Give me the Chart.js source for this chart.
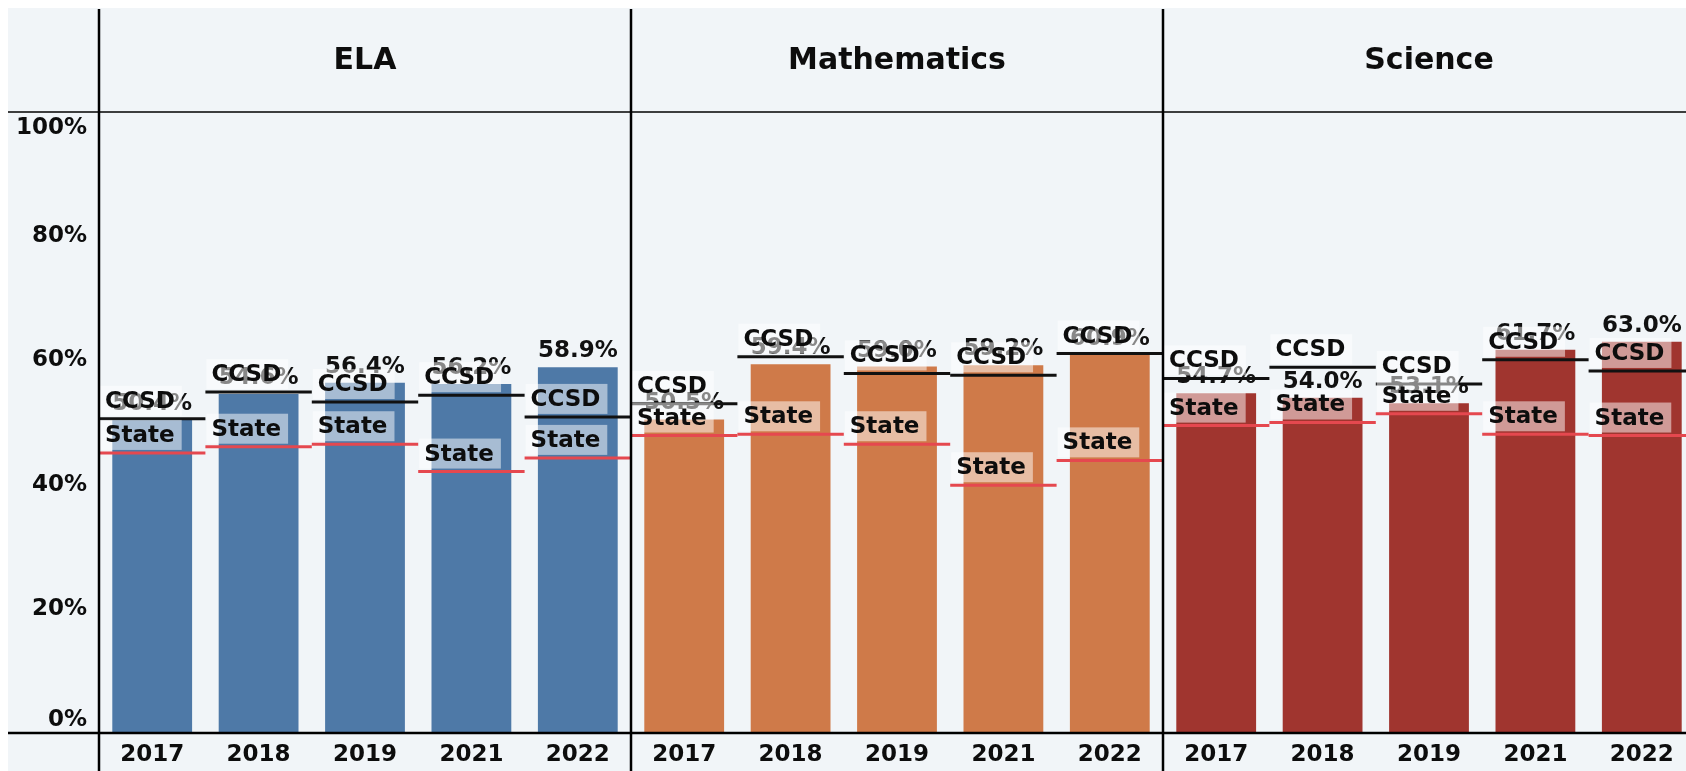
<!DOCTYPE html>
<html>
<head>
<meta charset="utf-8">
<script src="https://cdn.jsdelivr.net/npm/chart.js@4.4.0/dist/chart.umd.min.js"></script>
<style>
  html, body { margin: 0; padding: 0; background: #fff; overflow: hidden; }
  #wrap { position: relative; width: 1700px; height: 771px; }
</style>
</head>
<body>
<div id="wrap"><canvas id="myChart" width="1700" height="771"></canvas></div>
<script>
// Datos del gráfico
const subjects = ['ELA', 'Mathematics', 'Science'];
const years = ['2017', '2018', '2019', '2021', '2022'];
const elaValues = [50.4, 54.6, 56.4, 56.2, 58.9];
const mathValues = [50.5, 59.4, 59.0, 59.2, 60.9];
const sciValues = [54.7, 54.0, 53.1, 61.7, 63.0];
const elaCcsd = [50.6, 54.9, 53.3, 54.4, 50.9];
const mathCcsd = [53.0, 60.6, 57.9, 57.6, 61.1];
const sciCcsd = [57.1, 58.9, 56.2, 60.1, 58.3];
const elaState = [45.1, 46.1, 46.5, 42.1, 44.3];
const mathState = [47.9, 48.1, 46.5, 39.9, 43.9];
const sciState = [49.5, 50.0, 51.4, 48.1, 47.9];
const yTicks = [0, 20, 40, 60, 80, 100];
const subjectColors = ['#4e79a7', '#cf7a49', '#a0352f'];

const FONT = "'DejaVu Sans', Verdana, sans-serif";

// Construir las 15 categorías (3 materias x 5 años)
const labels = [].concat(years, years, years);
const barValues = [].concat(elaValues, mathValues, sciValues);
const ccsdValues = [].concat(elaCcsd, mathCcsd, sciCcsd);
const stateValues = [].concat(elaState, mathState, sciState);
const barColors = labels.map((_, i) => subjectColors[Math.floor(i / years.length)]);

const panelPlugin = {
  id: 'panelPlugin',
  beforeDraw(chart) {
    const ctx = chart.ctx;
    ctx.save();
    ctx.fillStyle = '#ffffff';
    ctx.fillRect(0, 0, chart.width, chart.height);
    ctx.fillStyle = '#f1f5f8';
    ctx.fillRect(8, 8, chart.width - 8, chart.height - 8);
    ctx.restore();
  },
  afterDatasetsDraw(chart) {
    const ctx = chart.ctx;
    const x = chart.scales.x;
    const y = chart.scales.y;
    const area = chart.chartArea;
    const slot = x.width / labels.length;
    const bars = chart.getDatasetMeta(0).data;

    ctx.save();

    // Etiquetas de valor
    ctx.font = 'bold 23px ' + FONT;
    ctx.fillStyle = '#111';
    ctx.textAlign = 'center';
    ctx.textBaseline = 'alphabetic';
    bars.forEach((bar, i) => {
      ctx.fillText(barValues[i].toFixed(1) + '%', bar.x, bar.y - 10);
    });

    // Líneas de referencia CCSD y State
    function refLine(xc, yv, color, text) {
      const left = xc - slot / 2;
      const yp = y.getPixelForValue(yv);
      ctx.strokeStyle = color;
      ctx.lineWidth = 3;
      ctx.beginPath();
      ctx.moveTo(left, yp);
      ctx.lineTo(left + slot, yp);
      ctx.stroke();
      ctx.font = 'bold 23px ' + FONT;
      const tw = ctx.measureText(text).width;
      ctx.fillStyle = 'rgba(255,255,255,0.5)';
      ctx.fillRect(left + 1, yp - 33, tw + 12, 30);
      ctx.fillStyle = '#0d0d0d';
      ctx.textAlign = 'left';
      ctx.textBaseline = 'middle';
      ctx.fillText(text, left + 6, yp - 17);
    }
    labels.forEach((_, i) => {
      const xc = x.getPixelForValue(i);
      refLine(xc, ccsdValues[i], '#111111', 'CCSD');
      refLine(xc, stateValues[i], '#e5484f', 'State');
    });

    // Separadores y encabezados
    ctx.strokeStyle = '#000';
    ctx.lineWidth = 1.5;
    ctx.beginPath();
    ctx.moveTo(8, area.top);
    ctx.lineTo(chart.width, area.top);
    ctx.stroke();
    ctx.lineWidth = 2.5;
    ctx.beginPath();
    ctx.moveTo(8, area.bottom);
    ctx.lineTo(chart.width, area.bottom);
    ctx.stroke();

    subjects.forEach((s, k) => {
      const pl = x.getPixelForValue(k * years.length) - slot / 2;
      const pr = pl + slot * years.length;
      ctx.strokeStyle = '#000';
      ctx.lineWidth = 2.5;
      ctx.beginPath();
      ctx.moveTo(pl, 9);
      ctx.lineTo(pl, chart.height);
      ctx.stroke();
      ctx.font = 'bold 30px ' + FONT;
      ctx.fillStyle = '#0d0d0d';
      ctx.textAlign = 'center';
      ctx.textBaseline = 'middle';
      ctx.fillText(s, (pl + pr) / 2, 61);
    });

    // Etiquetas del eje Y
    ctx.font = 'bold 23px ' + FONT;
    ctx.fillStyle = '#0d0d0d';
    ctx.textAlign = 'right';
    ctx.textBaseline = 'middle';
    yTicks.forEach(v => {
      let yp = y.getPixelForValue(v);
      yp = Math.max(area.top + 16, Math.min(area.bottom - 13, yp));
      ctx.fillText(v + '%', 87, yp);
    });

    ctx.restore();
  }
};

document.addEventListener('DOMContentLoaded', () => {
  const ctx = document.getElementById('myChart').getContext('2d');
  new Chart(ctx, {
    type: 'bar',
    data: {
      labels: labels,
      datasets: [{
        data: barValues,
        backgroundColor: barColors,
        categoryPercentage: 1.0,
        barPercentage: 0.75
      }]
    },
    options: {
      responsive: false,
      animation: false,
      layout: { padding: { top: 112, right: 5, left: 0, bottom: 0 } },
      plugins: { legend: { display: false }, tooltip: { enabled: false } },
      scales: {
        x: {
          grid: { display: false },
          border: { display: false },
          ticks: {
            autoSkip: false,
            maxRotation: 0,
            padding: 0,
            color: '#0d0d0d',
            font: { family: FONT, size: 23, weight: 'bold' }
          },
          afterFit(s) { s.height = 38; }
        },
        y: {
          min: 0,
          max: 100,
          grid: { display: false },
          border: { display: false },
          ticks: { display: false },
          afterFit(s) { s.width = 99; }
        }
      }
    },
    plugins: [panelPlugin]
  });
});
</script>
</body>
</html>
